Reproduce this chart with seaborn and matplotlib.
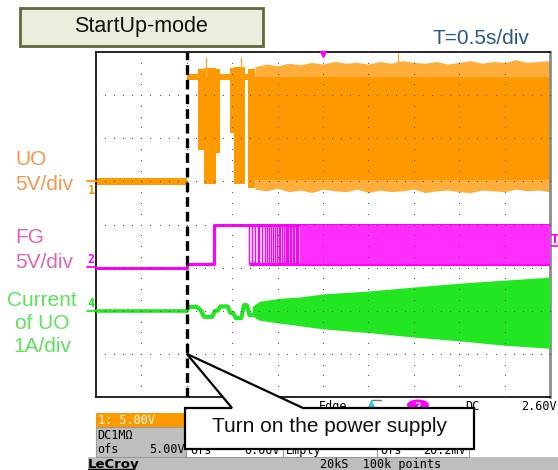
import matplotlib
matplotlib.use("Agg")
import matplotlib.pyplot as plt
from matplotlib.patches import Rectangle, Polygon, Ellipse
import numpy as np
import seaborn as sns

# values read off the scope shot; time in s (0.5 s/div), supply switched on at t = 0
# UO - channel 1, 5 V/div, ground at +1 div
uo_pre_t = [-1.00, 0.00]
uo_pre_lo = [-0.4, -0.4]
uo_pre_hi = [0.4, 0.4]
uo_start_t = [0.00, 0.12, 0.19, 0.32, 0.37, 0.48, 0.52, 0.64, 0.67, 0.75]
uo_start_lo = [11.8, 3.6, -0.3, 3.3, 11.8, 5.6, -0.3, 11.8, -0.8, -0.8]
uo_start_hi = [12.4, 13.0, 13.1, 13.0, 12.4, 13.2, 13.3, 12.4, 13.0, 13.0]
uo_ss_t = [0.75, 0.875, 1.0, 1.125, 1.25, 1.375, 1.5, 1.625, 1.75, 1.875, 2.0, 2.125, 2.25,
           2.375, 2.5, 2.625, 2.75, 2.875, 3.0, 3.125, 3.25, 3.375, 3.5, 3.625, 3.75, 3.875, 4.0]
uo_ss_hi = [13.3, 13.6, 13.4, 13.7, 13.5, 13.8, 13.6, 13.9, 13.7, 13.8, 13.6, 13.9, 13.7, 14.0,
            13.8, 13.7, 13.9, 13.6, 13.8, 14.0, 13.7, 13.9, 13.8, 14.1, 13.8, 13.9, 14.0]
uo_ss_lo = [-0.9, -1.1, -0.8, -1.2, -1.0, -1.3, -0.9, -1.1, -1.2, -0.9, -1.3, -1.0, -1.2, -1.1,
            -0.9, -1.3, -1.1, -1.0, -1.2, -1.3, -1.0, -1.1, -1.2, -0.9, -1.1, -1.0, -1.2]
uo_core_lo = 0.2
uo_core_hi = 12.1
uo_spike_t = [0.21, 0.60, 2.33]
uo_spike_v = [14.4, 14.4, 14.9]

# FG - channel 2, 5 V/div, ground at -1 div
fg_t = [-1.00, 0.00, 0.30, 4.00]
fg_v = [0.0, 0.4, 5.0, 5.0]
fg_low = 0.4
fg_high = 5.0
fg_edge_t = [0.685, 0.72, 0.75, 0.78, 0.80, 0.83, 0.86, 0.88, 0.91, 0.93, 0.95, 0.97, 0.99,
             1.01, 1.03, 1.05, 1.07, 1.09, 1.10, 1.12, 1.14, 1.15, 1.17, 1.18, 1.20, 1.21, 1.23]
fg_fill_t = [1.25, 4.00]

# current of UO - channel 4, 1 A/div, zero at -2 div
cur_pre_t = [-1.00, 0.00]
cur_pre_i = [0.0, 0.0]
cur_wave_t = [0.00, 0.02, 0.11, 0.15, 0.19, 0.28, 0.31, 0.34, 0.37, 0.45, 0.48, 0.51, 0.54,
              0.60, 0.63, 0.66, 0.69, 0.72]
cur_wave_i = [0.00, 0.09, 0.09, 0.02, -0.14, -0.14, 0.00, 0.00, 0.10, 0.10, -0.05, -0.05,
              -0.17, -0.17, 0.13, 0.13, -0.10, -0.10]
cur_env_t = [0.72, 0.80, 1.03, 1.25, 1.50, 2.02, 2.50, 3.01, 3.50, 4.00]
cur_env_hi = [0.10, 0.22, 0.29, 0.32, 0.39, 0.46, 0.55, 0.64, 0.71, 0.78]
cur_env_lo = [-0.12, -0.22, -0.29, -0.35, -0.42, -0.51, -0.61, -0.70, -0.80, -0.87]

ORANGE = "#FF9900"
ORANGE_LT = "#FFAE3C"
MAGENTA = "#FF00FF"
GREEN = "#22E622"

def ch1(v):
    return 1 + np.asarray(v, dtype=float) / 5

def ch2(v):
    return -1 + np.asarray(v, dtype=float) / 5

def ch4(i):
    return -2 + np.asarray(i, dtype=float)

sns.set_style("white")
plt.rcParams['font.family'] = ['Liberation Sans', 'DejaVu Sans']

W, H = 558, 470
fig = plt.figure(figsize=(W / 100, H / 100), dpi=100)
ax = fig.add_axes([96 / W, 1 - 397 / H, 454 / W, 345 / H])
ax.set_xlim(-1, 4)
ax.set_ylim(-4, 4)
ax.set_xticks([])
ax.set_yticks([])
for s in ['left', 'top', 'bottom']:
    ax.spines[s].set_color('black')
    ax.spines[s].set_linewidth(1.2)
ax.spines['right'].set_color('#8c8c8c')
ax.spines['right'].set_linewidth(2)


def fx(px):
    return px / W


def fy(py):
    return 1 - py / H


# ---- UO
ax.fill_between(uo_pre_t, ch1(uo_pre_lo), ch1(uo_pre_hi), color=ORANGE, lw=0, zorder=2)
ax.fill_between(uo_start_t, ch1(uo_start_lo), ch1(uo_start_hi), step='post', color=ORANGE,
                lw=0, zorder=2)
ax.fill_between(uo_ss_t, ch1(uo_ss_lo), ch1(uo_ss_hi), color=ORANGE_LT, lw=0, zorder=2)
ax.fill_between(uo_ss_t, ch1([uo_core_lo] * len(uo_ss_t)), ch1([uo_core_hi] * len(uo_ss_t)),
                color=ORANGE, lw=0, zorder=2)
ax.vlines(uo_spike_t, ch1(uo_core_hi), ch1(uo_spike_v), color=ORANGE_LT, lw=1, zorder=2)

# ---- FG
sns.lineplot(x=fg_t, y=ch2(fg_v), ax=ax, color=MAGENTA, lw=2.2, estimator=None, sort=False,
             drawstyle='steps-post', legend=False, zorder=3)
ax.hlines(ch2(fg_low), fg_edge_t[0], 4.0, color=MAGENTA, lw=2.2, zorder=3)
ax.vlines(fg_edge_t, ch2(fg_low), ch2(fg_high), color=MAGENTA, lw=1.0, zorder=3)
ax.fill_between(fg_fill_t, ch2([fg_low, fg_low]), ch2([fg_high, fg_high]), color="#FF2EFF",
                lw=0, zorder=3)

# ---- current
sns.lineplot(x=cur_pre_t, y=ch4(cur_pre_i), ax=ax, color=GREEN, lw=2.6, estimator=None,
             sort=False, legend=False, zorder=3)
sns.lineplot(x=cur_wave_t, y=ch4(cur_wave_i), ax=ax, color=GREEN, lw=3.0, estimator=None,
             sort=False, legend=False, zorder=3)
ax.fill_between(cur_env_t, ch4(cur_env_lo), ch4(cur_env_hi), color=GREEN, lw=0, zorder=3)

# ---- scope graticule (small dots)
for gx in np.arange(-0.5, 3.75, 0.5):
    ys = np.arange(-4, 4.01, 0.25)
    ax.plot(np.full_like(ys, gx), ys, ls='none', marker='s', ms=0.75, mew=0, color='#4a4a4a',
            zorder=5)
for gy in range(-3, 4):
    xs = np.arange(-1, 4.01, 0.1)
    ax.plot(xs, np.full_like(xs, gy), ls='none', marker='s', ms=0.75, mew=0, color='#4a4a4a',
            zorder=5)

# switch-on marker
ax.axvline(0, color='black', lw=2.4, dashes=(2.9, 1.5), zorder=6)

# trigger markers
ax.plot([1.5], [3.95], marker='v', ms=5, color=MAGENTA, clip_on=False, zorder=7)
fig.text(fx(551), fy(243), "T", color=MAGENTA, fontsize=8.5, fontweight='bold', ha='left',
         va='baseline', family='DejaVu Sans')
fig.add_artist(plt.Line2D([fx(551), fx(558)], [fy(246), fy(246)], color=MAGENTA, lw=1.2))

# channel markers on the left edge
for lab, ly, ty, col in [("1", 181, 194, ORANGE), ("2", 267, 263, MAGENTA), ("4", 311, 307, GREEN)]:
    fig.add_artist(plt.Line2D([fx(87), fx(96)], [fy(ly), fy(ly)], color=col, lw=1.3))
    fig.text(fx(91), fy(ty), lab, color=col, fontsize=8.5, fontweight='bold', ha='center',
             va='baseline', family='DejaVu Sans Mono')

# ---- labels
fig.add_artist(Rectangle((fx(20), fy(46)), 243 / W, 38 / H, transform=fig.transFigure,
                         facecolor="#E9EFDC", edgecolor="#5B6B3C", lw=2))
fig.text(fx(141), fy(32), "StartUp-mode", fontsize=15.5, ha='center', va='baseline',
         color='#111111')
fig.text(fx(481), fy(44), "T=0.5s/div", fontsize=15, ha='center', va='baseline', color="#2A5889")

LBL_OR = "#F7964A"
LBL_PK = "#E064B4"
LBL_GR = "#5CE35C"
fig.text(fx(15), fy(165), "UO", fontsize=15, color=LBL_OR, va='baseline')
fig.text(fx(15), fy(190), "5V/div", fontsize=15, color=LBL_OR, va='baseline')
fig.text(fx(15), fy(243), "FG", fontsize=15, color=LBL_PK, va='baseline')
fig.text(fx(15), fy(268), "5V/div", fontsize=15, color=LBL_PK, va='baseline')
fig.text(fx(42), fy(306), "Current", fontsize=15, color=LBL_GR, va='baseline', ha='center')
fig.text(fx(42), fy(329), "of UO", fontsize=15, color=LBL_GR, va='baseline', ha='center')
fig.text(fx(42), fy(352), "1A/div", fontsize=15, color=LBL_GR, va='baseline', ha='center')

# ---- scope info panels at the bottom
MONO = 'DejaVu Sans Mono'
fig.add_artist(Rectangle((fx(88), fy(470)), 470 / W, 13 / H, transform=fig.transFigure,
                         facecolor="#BEBEBE", lw=0, zorder=2))
fig.add_artist(Rectangle((fx(96), fy(457)), 90 / W, 30 / H, transform=fig.transFigure,
                         facecolor="#BEBEBE", edgecolor="#9a9a9a", lw=0.8, zorder=2))
fig.add_artist(Rectangle((fx(96), fy(427)), 90 / W, 14 / H, transform=fig.transFigure,
                         facecolor=ORANGE, lw=0, zorder=2))
fig.add_artist(Rectangle((fx(186), fy(457)), 283 / W, 30 / H, transform=fig.transFigure,
                         facecolor="white", edgecolor="#9a9a9a", lw=0.8, zorder=2))
fig.add_artist(plt.Line2D([fx(283), fx(283)], [fy(427), fy(457)], color="#9a9a9a", lw=0.8, zorder=2))
fig.add_artist(plt.Line2D([fx(377), fx(377)], [fy(427), fy(457)], color="#9a9a9a", lw=0.8, zorder=2))
fig.text(fx(98), fy(424), "1: 5.00V", color='white', fontsize=8.5, family=MONO, va='baseline', zorder=3)
fig.text(fx(97), fy(439), "DC1M\u03a9", color='black', fontsize=8.5, family=MONO, va='baseline', zorder=3)
fig.text(fx(97), fy(453), "ofs", color='black', fontsize=8.5, family=MONO, va='baseline', zorder=3)
fig.text(fx(185), fy(453), "5.00V", color='black', fontsize=8.5, family=MONO, va='baseline',
         ha='right', zorder=3)
fig.text(fx(190), fy(454), "ofs", color='black', fontsize=8.5, family=MONO, va='baseline', zorder=3)
fig.text(fx(280), fy(454), "0.00V", color='black', fontsize=8.5, family=MONO, va='baseline',
         ha='right', zorder=3)
fig.text(fx(286), fy(454), "Empty", color='black', fontsize=8.5, family=MONO, va='baseline', zorder=3)
fig.text(fx(380), fy(454), "ofs", color='black', fontsize=8.5, family=MONO, va='baseline', zorder=3)
fig.text(fx(466), fy(454), "20.2mV", color='black', fontsize=8.5, family=MONO, va='baseline',
         ha='right', zorder=3)
fig.text(fx(88), fy(468), "LeCroy", color='black', fontsize=9.5, fontweight='bold',
         family='DejaVu Sans', va='baseline', zorder=3)
fig.add_artist(plt.Line2D([fx(88), fx(133)], [fy(469), fy(469)], color='black', lw=1, zorder=3))
fig.text(fx(320), fy(468), "20kS  100k points", color='black', fontsize=8.5, family=MONO,
         va='baseline', zorder=3)

fig.text(fx(319), fy(410), "Edge", color='black', fontsize=8.5, family=MONO, va='baseline', zorder=3)
fig.add_artist(plt.Line2D([fx(371), fx(371)], [fy(400), fy(410)], color="#22CCEE", lw=1, zorder=3))
fig.add_artist(plt.Line2D([fx(371)], [fy(404)], marker='^', ms=4, color="#22CCEE", zorder=3))
fig.add_artist(plt.Line2D([fx(372), fx(381)], [fy(400), fy(400)], color="#777777", lw=1, zorder=3))
fig.add_artist(Ellipse((fx(418), fy(405)), 22 / W, 11 / H, transform=fig.transFigure,
                       facecolor=MAGENTA, lw=0, zorder=3))
fig.text(fx(418), fy(409.5), "2", color='white', fontsize=8, family=MONO, fontweight='bold',
         ha='center', va='baseline', zorder=4)
fig.text(fx(465), fy(410), "DC", color='black', fontsize=8.5, family=MONO, va='baseline', zorder=3)
fig.text(fx(557), fy(410), "2.60V", color='black', fontsize=8.5, family=MONO, va='baseline',
         ha='right', zorder=3)

# ---- callout pointing at the switch-on instant
tip = fig.transFigure.inverted().transform(ax.transData.transform((0, -3)))
callout = Polygon([(fx(185), fy(408)), (fx(232), fy(408)), tuple(tip), (fx(303), fy(408)),
                   (fx(474), fy(408)), (fx(474), fy(449)), (fx(185), fy(449))],
                  closed=True, transform=fig.transFigure, facecolor='white', edgecolor='black',
                  lw=1.6, zorder=10)
fig.add_artist(callout)
fig.text(fx(329), fy(432), "Turn on the power supply", fontsize=15, ha='center', va='baseline',
         color='#111111', zorder=11)

fig.savefig("out.png", dpi=100)
